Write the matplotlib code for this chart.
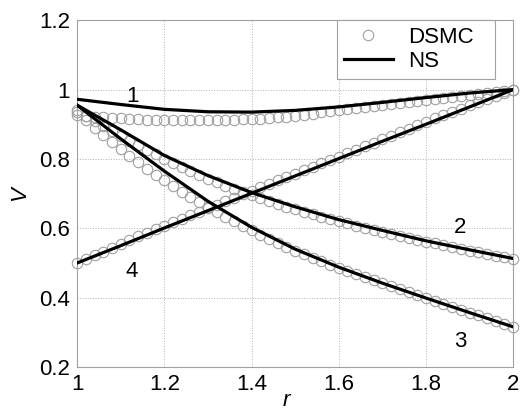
import numpy as np
import matplotlib.pyplot as plt


# Data ------------------------------------------------------------------

# NS solution (lines), r = 1.0 ... 2.0 step 0.1
R_NS = [1.0, 1.1, 1.2, 1.3, 1.4, 1.5, 1.6, 1.7, 1.8, 1.9, 2.0]

V_NS_1 = [0.972, 0.957, 0.943, 0.936, 0.935, 0.940, 0.950, 0.963, 0.977, 0.990, 1.000]
V_NS_2 = [0.955, 0.884, 0.810, 0.752, 0.703, 0.662, 0.625, 0.594, 0.564, 0.538, 0.513]
V_NS_3 = [0.955, 0.858, 0.765, 0.678, 0.603, 0.540, 0.488, 0.442, 0.399, 0.357, 0.316]
V_NS_4 = [0.500, 0.550, 0.601, 0.651, 0.701, 0.751, 0.801, 0.851, 0.900, 0.950, 1.000]

# DSMC solution (circles), r = 1.00 ... 2.00 step 0.02
R_DSMC = np.linspace(1.0, 2.0, 51)

V_DSMC_1 = [0.928, 0.925, 0.922, 0.920, 0.918, 0.917, 0.915, 0.914, 0.913, 0.913,
            0.912, 0.912, 0.912, 0.912, 0.912, 0.912, 0.912, 0.913, 0.913, 0.914,
            0.915, 0.916, 0.918, 0.920, 0.922, 0.925, 0.928, 0.931, 0.934, 0.937,
            0.940, 0.943, 0.946, 0.949, 0.952, 0.955, 0.958, 0.961, 0.964, 0.967,
            0.970, 0.973, 0.976, 0.979, 0.982, 0.985, 0.988, 0.991, 0.994, 0.997,
            1.000]

V_DSMC_2 = [0.940, 0.924, 0.909, 0.894, 0.880, 0.866, 0.852, 0.839, 0.826, 0.813,
            0.800, 0.788, 0.776, 0.765, 0.754, 0.743, 0.733, 0.723, 0.713, 0.704,
            0.695, 0.686, 0.678, 0.670, 0.662, 0.655, 0.648, 0.641, 0.634, 0.627,
            0.620, 0.614, 0.608, 0.602, 0.596, 0.590, 0.584, 0.578, 0.573, 0.567,
            0.562, 0.557, 0.551, 0.546, 0.541, 0.536, 0.531, 0.526, 0.521, 0.516,
            0.511]

V_DSMC_3 = [0.935, 0.912, 0.890, 0.869, 0.848, 0.828, 0.809, 0.790, 0.772, 0.755,
            0.738, 0.722, 0.706, 0.691, 0.676, 0.661, 0.647, 0.633, 0.620, 0.607,
            0.594, 0.582, 0.570, 0.558, 0.547, 0.536, 0.526, 0.515, 0.505, 0.495,
            0.486, 0.477, 0.468, 0.459, 0.450, 0.441, 0.433, 0.424, 0.416, 0.407,
            0.399, 0.391, 0.382, 0.374, 0.366, 0.357, 0.349, 0.341, 0.333, 0.325,
            0.316]

V_DSMC_4 = [0.500, 0.511, 0.522, 0.533, 0.544, 0.555, 0.566, 0.577, 0.587, 0.598,
            0.608, 0.618, 0.628, 0.638, 0.648, 0.658, 0.668, 0.678, 0.688, 0.698,
            0.708, 0.718, 0.728, 0.738, 0.747, 0.757, 0.767, 0.777, 0.787, 0.797,
            0.807, 0.817, 0.827, 0.837, 0.847, 0.857, 0.867, 0.877, 0.887, 0.897,
            0.907, 0.917, 0.926, 0.936, 0.945, 0.955, 0.964, 0.973, 0.982, 0.991,
            1.000]

# curve numbers: (r, V, text)
Curve_Labels = [(1.126, 0.963, "1"), (1.878, 0.586, "2"),
                (1.878, 0.258, "3"), (1.126, 0.459, "4")]

X_Ticks = [1.0, 1.2, 1.4, 1.6, 1.8, 2.0]
X_Tick_Labels = ["1", "1.2", "1.4", "1.6", "1.8", "2"]
Y_Ticks = [0.2, 0.4, 0.6, 0.8, 1.0, 1.2]
Y_Tick_Labels = ["0.2", "0.4", "0.6", "0.8", "1", "1.2"]


# Plotting --------------------------------------------------------------

plt.rcParams["font.family"] = ["Liberation Sans", "DejaVu Sans"]
Font_Size = 16

Circle_Color = "#a0a0a0"
Frame_Color = "#a0a0a0"
Marker_Size = 7.5

fig = plt.figure(figsize= (5.28, 4.12), dpi= 100)
ax = fig.add_axes([0.146, 0.109, 0.826, 0.842])

for V_DSMC in [V_DSMC_1, V_DSMC_2, V_DSMC_3, V_DSMC_4]:
    ax.plot(R_DSMC, V_DSMC, linestyle= "none", marker= "o", markersize= Marker_Size,
            markerfacecolor= "none", markeredgecolor= Circle_Color,
            markeredgewidth= 0.8, clip_on= False, zorder= 2)

for V_NS in [V_NS_1, V_NS_2, V_NS_3, V_NS_4]:
    ax.plot(R_NS, V_NS, color= "black", linewidth= 2.3, zorder= 3)

for R, V, Text in Curve_Labels:
    ax.text(R, V, Text, fontsize= Font_Size, ha= "center", va= "baseline")

ax.set_xlim(1.0, 2.0)
ax.set_ylim(0.2, 1.2)
ax.set_xticks(X_Ticks)
ax.set_xticklabels(X_Tick_Labels)
ax.set_yticks(Y_Ticks)
ax.set_yticklabels(Y_Tick_Labels)
ax.tick_params(labelsize= Font_Size, length= 0, pad= 5)

ax.grid(True, linestyle= ":", color= "#b0b0b0", linewidth= 0.7)
for Spine in ax.spines.values():
    Spine.set_color(Frame_Color)
    Spine.set_linewidth(0.8)

ax.set_xlabel("r", fontsize= Font_Size, fontstyle= "italic")
ax.xaxis.set_label_coords(0.48, -0.065)
ax.set_ylabel("V", fontsize= Font_Size, fontstyle= "italic")
ax.yaxis.set_label_coords(-0.108, 0.5)

# legend handles (empty data)
H_DSMC, = ax.plot([], [], linestyle= "none", marker= "o", markersize= Marker_Size,
                  markerfacecolor= "none", markeredgecolor= Circle_Color,
                  markeredgewidth= 0.8)
H_NS, = ax.plot([], [], color= "black", linewidth= 2.3)

Leg_X0 = (337 - 77) / 436
Leg_W = (495 - 337) / 436
Leg = ax.legend([H_DSMC, H_NS], ["DSMC", "NS"], fontsize= Font_Size,
                loc= "upper left", bbox_to_anchor= (Leg_X0, 0.0, Leg_W, 1.0),
                mode= "expand", borderaxespad= 0, fancybox= False, framealpha= 1,
                handlelength= 2.2, handletextpad= 0.7, borderpad= 0.3,
                labelspacing= 0.15)
Leg.get_frame().set_edgecolor(Frame_Color)
Leg.get_frame().set_linewidth(0.8)

plt.savefig("out.png", dpi= 100)
